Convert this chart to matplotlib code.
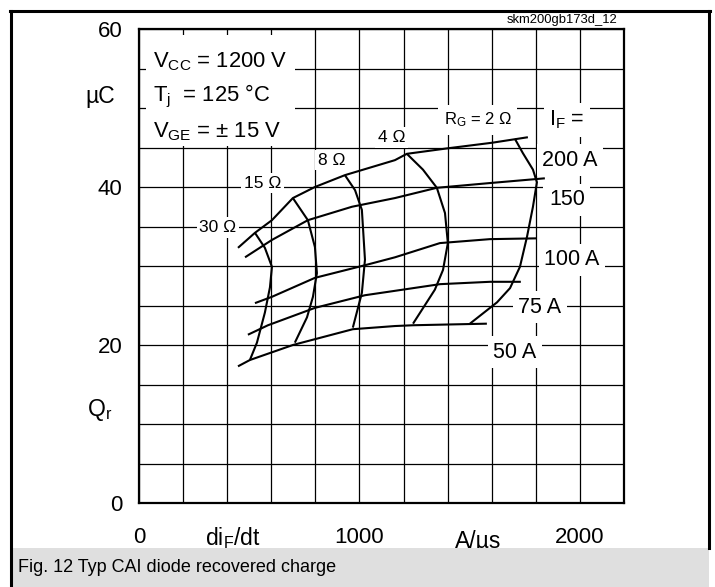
import matplotlib
matplotlib.use("Agg")
import numpy as np
from matplotlib import pyplot as plt
from matplotlib.patches import Rectangle
from matplotlib.lines import Line2D

plt.rcParams["font.family"] = ["Liberation Sans", "DejaVu Sans"]
plt.rcParams["mathtext.default"] = "regular"

W, H = 715, 587

# forward current curves: di/dt (A/us), Qr (uC)
if_200_x = [449, 526, 603, 698, 798, 934, 1161, 1215, 1401, 1601, 1764]
if_200_y = [32.3, 34.2, 35.8, 38.6, 40.0, 41.5, 43.4, 44.2, 44.9, 45.6, 46.3]
if_150_x = [481, 603, 766, 966, 1161, 1351, 1592, 1841]
if_150_y = [31.1, 33.3, 35.8, 37.5, 38.6, 39.9, 40.5, 41.1]
if_100_x = [526, 603, 798, 1025, 1161, 1365, 1592, 1805]
if_100_y = [25.3, 26.1, 28.5, 30.1, 31.1, 32.9, 33.4, 33.5]
if_75_x = [494, 585, 798, 1025, 1147, 1365, 1592, 1732]
if_75_y = [21.3, 22.5, 24.7, 26.3, 26.8, 27.7, 28.0, 28.0]
if_50_x = [449, 503, 698, 970, 1161, 1243, 1578]
if_50_y = [17.3, 18.1, 20.0, 22.0, 22.4, 22.5, 22.7]

# gate resistance curves
rg_30_x = [526, 571, 603, 594, 571, 535, 503]
rg_30_y = [34.2, 32.3, 29.9, 27.3, 24.1, 20.3, 18.1]
rg_15_x = [698, 766, 798, 807, 789, 762, 707]
rg_15_y = [38.6, 35.8, 32.4, 29.1, 26.1, 23.5, 20.3]
rg_8_x = [934, 980, 1011, 1025, 1011, 970]
rg_8_y = [41.5, 39.6, 37.1, 30.8, 26.6, 22.2]
rg_4_x = [1215, 1288, 1351, 1388, 1401, 1379, 1342, 1243]
rg_4_y = [44.2, 42.2, 39.9, 36.7, 32.9, 29.5, 27.0, 22.7]
rg_2_x = [1705, 1741, 1787, 1805, 1787, 1760, 1728, 1683, 1624, 1501]
rg_2_y = [46.1, 44.3, 42.2, 40.6, 37.5, 33.7, 29.9, 27.2, 25.4, 22.7]

fig = plt.figure(figsize=(W / 100, H / 100), dpi=100)
ax = fig.add_axes([139 / W, 84 / H, 485 / W, 474 / H])

ax.set_xlim(0, 2200)
ax.set_ylim(0, 60)
ax.set_xticks(np.arange(0, 2201, 200))
ax.set_xticklabels(["0", "", "", "", "", "1000", "", "", "", "", "2000", ""])
ax.set_yticks(np.arange(0, 61, 5))
ax.set_yticklabels(["0", "", "", "", "20", "", "", "", "40", "", "", "", "60"])
ax.tick_params(length=0, labelsize=16, pad=12)
ax.tick_params(axis="x", pad=17)
ax.grid(True, color="black", linewidth=0.9)
ax.set_axisbelow(True)
for sp in ax.spines.values():
    sp.set_linewidth(1.6)

for xs, ys in [(if_200_x, if_200_y), (if_150_x, if_150_y), (if_100_x, if_100_y),
               (if_75_x, if_75_y), (if_50_x, if_50_y), (rg_30_x, rg_30_y),
               (rg_15_x, rg_15_y), (rg_8_x, rg_8_y), (rg_4_x, rg_4_y), (rg_2_x, rg_2_y)]:
    ax.plot(xs, ys, color="black", linewidth=1.5, zorder=2, solid_capstyle="butt")

# conditions box
ax.add_patch(Rectangle((32, 45.2), 675, 14.0, facecolor="white", edgecolor="none", zorder=1.5))
ax.text(63, 55.9, "V$_{CC}$ = 1200 V", fontsize=15.8, va="center", zorder=3)
ax.text(63, 51.4, "T$_j$  = 125 °C", fontsize=15.8, va="center", zorder=3)
ax.text(63, 47.0, "V$_{GE}$ = ± 15 V", fontsize=15.8, va="center", zorder=3)

box = dict(facecolor="white", edgecolor="none", pad=2)
ax.text(358, 34.9, "30 Ω", fontsize=12.5, ha="center", va="center", bbox=box)
ax.text(562, 40.5, "15 Ω", fontsize=12.5, ha="center", va="center", bbox=box)
ax.text(875, 43.4, "8 Ω", fontsize=12.5, ha="center", va="center", bbox=box)
ax.text(1147, 46.3, "4 Ω", fontsize=12.5, ha="center", va="center", bbox=box)
ax.text(1537, 48.5, "R$_G$ = 2 Ω", fontsize=12, ha="center", va="center",
        bbox=dict(facecolor="white", edgecolor="none", pad=4))

box2 = dict(facecolor="white", edgecolor="none", pad=4)
ax.text(1941, 48.5, "I$_F$ =", fontsize=15.5, ha="center", va="center", bbox=box2)
ax.text(1955, 43.4, "200 A", fontsize=15.5, ha="center", va="center", bbox=box2)
ax.text(1941, 38.4, "150", fontsize=15.5, ha="center", va="center", bbox=box2)
ax.text(1964, 30.8, "100 A", fontsize=15.5, ha="center", va="center", bbox=box2)
ax.text(1819, 24.8, "75 A", fontsize=15.5, ha="center", va="center", bbox=box2)
ax.text(1705, 19.1, "50 A", fontsize=15.5, ha="center", va="center", bbox=box2)

# axis labels
ax.text(-177, 51.5, "µC", fontsize=16.5, ha="center", va="center", clip_on=False)
ax.text(-177, 11.8, "Q$_r$", fontsize=16.5, ha="center", va="center", clip_on=False)
ax.text(426, -4.4, "di$_F$/dt", fontsize=16.5, ha="center", va="center", clip_on=False)
ax.text(1537, -4.9, "A/µs", fontsize=16.5, ha="center", va="center", clip_on=False)

fig.text(562 / W, 1 - 20 / H, "skm200gb173d_12", fontsize=9.4, ha="center", va="center")

# caption band and frame
fig.add_artist(Rectangle((13 / W, 0), 696 / W, 39 / H, transform=fig.transFigure,
                         facecolor="#dfdfdf", edgecolor="none"))
fig.text(18 / W, 1 - 568 / H, "Fig. 12 Typ CAI diode recovered charge", fontsize=13,
         ha="left", va="center")
lw = 2.2
fig.add_artist(Line2D([11.5 / W, 11.5 / W], [0, 1 - 10.5 / H], color="black", linewidth=lw,
                      transform=fig.transFigure))
fig.add_artist(Line2D([10 / W, 710 / W], [1 - 10.5 / H, 1 - 10.5 / H], color="black",
                      linewidth=lw, transform=fig.transFigure))
fig.add_artist(Line2D([708.5 / W, 708.5 / W], [1 - 548 / H, 1 - 10.5 / H], color="black",
                      linewidth=lw, transform=fig.transFigure))

fig.savefig("out.png", dpi=100)
